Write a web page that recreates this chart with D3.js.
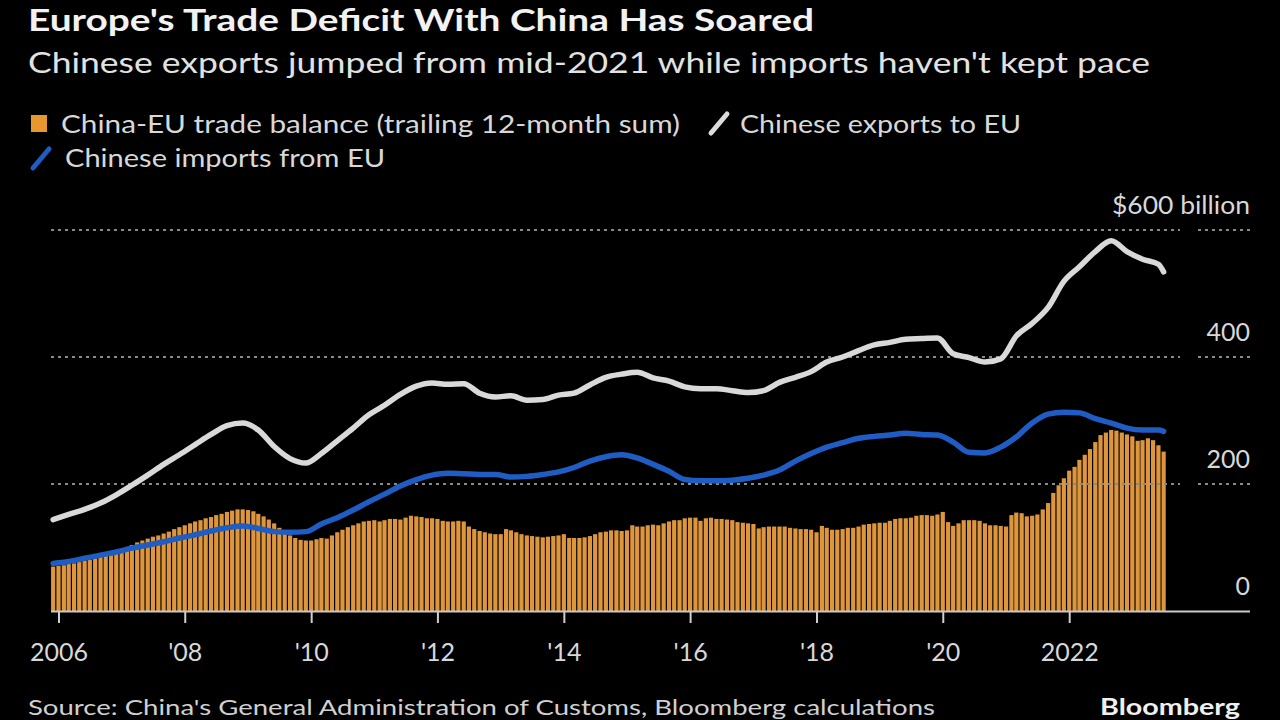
<!DOCTYPE html>
<html><head><meta charset="utf-8">
<script src="https://cdn.jsdelivr.net/npm/d3@7"></script>
<style>
body{margin:0;background:#000;}
svg{display:block;}
text{font-family:Lato,"Noto Sans",sans-serif;}
</style>
</head><body>
<svg id="c" width="1280" height="720"></svg>
<script>
// ---------- data ----------
const tickYears = [2006, 2008, 2010, 2012, 2014, 2016, 2018, 2020, 2022];
const tickLabels = ["2006", "'08", "'10", "'12", "'14", "'16", "'18", "'20", "2022"];
const yTicks = [0, 200, 400, 600];
const yTickLabels = ["0", "200", "400", "$600 billion"];

// monthly bars: Dec 2005 .. Jul 2023 (trailing 12-month sum, $bn)
const balanceStart = [2005, 11];
const balance = [
  70,
  71, 72, 74, 75, 77, 79, 81, 83, 85, 88, 91, 94,
  97, 101, 104, 108, 111, 114, 117, 119, 122, 125, 129, 132,
  135, 138, 141, 143, 146, 148, 151, 153, 156, 158, 160, 160,
  159, 157, 153, 149, 144, 138, 131, 125, 119, 115, 112, 111,
  111, 113, 115, 114, 119, 124, 128, 132, 135, 138, 141, 142,
  143, 141, 143, 145, 145, 144, 147, 150, 149, 148, 146, 146,
  145, 142, 141, 141, 142, 141, 133, 129, 126, 124, 122, 121,
  121, 129, 127, 124, 121, 119, 118, 117, 116, 117, 118, 119,
  121, 115, 115, 115, 116, 118, 121, 124, 125, 127, 127, 126,
  127, 135, 133, 133, 135, 136, 135, 138, 141, 143, 143, 146,
  147, 147, 142, 146, 147, 145, 145, 144, 143, 140, 139, 138,
  137, 130, 132, 133, 133, 133, 133, 131, 130, 129, 129, 128,
  124, 134, 131, 128, 128, 129, 131, 131, 133, 136, 137, 138,
  139, 139, 142, 145, 146, 146, 147, 150, 151, 151, 150, 152,
  156, 140, 134, 138, 143, 143, 143, 142, 138, 135, 135, 134,
  133, 151, 155, 154, 149, 150, 152, 160, 170, 186, 198, 209,
  221, 227, 238, 246, 255, 266, 277, 281, 285, 284, 281, 278,
  275, 268, 269, 272, 269, 261, 251
];

// quarterly line points: Dec 2005, Mar 2006, ... Jun 2023, then Jul 2023
const lineStart = [2005, 11];
const exportsToEU = [
  144,
  152, 160, 170, 183,
  198, 214, 231, 246,
  262, 278, 292, 296,
  285, 259, 240, 233,
  248, 268, 288, 309,
  324, 341, 354, 359,
  357, 358, 343, 337,
  339, 332, 333, 340,
  343, 356, 368, 373,
  376, 367, 362, 353,
  350, 350, 347, 344,
  347, 360, 368, 377,
  392, 400, 410, 419,
  423, 428, 429, 430,
  405, 399, 392, 397,
  433, 453, 478, 519,
  542, 566, 583, 566,
  554, 546, 534
];
const importsFromEU = [
  75,
  78, 83, 88, 93,
  99, 104, 109, 115,
  120, 126, 131, 134,
  130, 125, 124, 125,
  137, 147, 159, 172,
  184, 197, 207, 214,
  217, 216, 215, 215,
  211, 212, 215, 219,
  226, 236, 243, 246,
  241, 231, 220, 207,
  205, 205, 206, 209,
  214, 222, 236, 248,
  258, 265, 272, 275,
  277, 280, 278, 277,
  266, 250, 249, 258,
  274, 296, 310, 313,
  312, 303, 296, 288,
  285, 285, 283
];

// ---------- chart ----------
const svg = d3.select("#c");
svg.append("rect").attr("width", 1280).attr("height", 720).attr("fill", "#000");

const x = d3.scaleTime()
  .domain([new Date(2006, 0, 1), new Date(2022, 0, 1)])
  .range([58.5, 1069.2]);
const y = d3.scaleLinear().domain([0, 600]).range([611, 230]);

const months = balance.map((v, i) => new Date(balanceStart[0], balanceStart[1] + i, 1));
const lineDates = exportsToEU.map((v, i) =>
  i < exportsToEU.length - 1
    ? new Date(lineStart[0], lineStart[1] + 3 * i, 1)
    : new Date(lineStart[0], lineStart[1] + 3 * (i - 1) + 1, 1));

function fit(sel, w) {
  sel.attr("textLength", w).attr("lengthAdjust", "spacingAndGlyphs");
  return sel;
}

// titles
fit(svg.append("text").attr("x", 28).attr("y", 31)
  .attr("font-size", 31).attr("font-weight", 700).attr("fill", "#f2f2f2")
  .text("Europe's Trade Deficit With China Has Soared"), 786);
fit(svg.append("text").attr("x", 28).attr("y", 73)
  .attr("font-size", 28).attr("fill", "#e2e2e2")
  .text("Chinese exports jumped from mid-2021 while imports haven't kept pace"), 1122);

// legend
const lg = svg.append("g");
lg.append("rect").attr("x", 31).attr("y", 115).attr("width", 16).attr("height", 17).attr("fill", "#e8972f");
fit(lg.append("text").attr("x", 61).attr("y", 133).attr("font-size", 25).attr("fill", "#d8d8d8")
  .text("China-EU trade balance (trailing 12-month sum)"), 619);
lg.append("line").attr("x1", 711).attr("y1", 133).attr("x2", 727).attr("y2", 114)
  .attr("stroke", "#dcdcdc").attr("stroke-width", 5).attr("stroke-linecap", "round");
fit(lg.append("text").attr("x", 740).attr("y", 133).attr("font-size", 25).attr("fill", "#d8d8d8")
  .text("Chinese exports to EU"), 281);
lg.append("line").attr("x1", 33).attr("y1", 168).attr("x2", 49).attr("y2", 149)
  .attr("stroke", "#1f5cc4").attr("stroke-width", 5).attr("stroke-linecap", "round");
fit(lg.append("text").attr("x", 65).attr("y", 167).attr("font-size", 25).attr("fill", "#d8d8d8")
  .text("Chinese imports from EU"), 320);

// bars
const step = x(new Date(2006, 1, 1)) - x(new Date(2006, 0, 1));
const bw = step * 0.78;
svg.append("g").selectAll("rect").data(balance).join("rect")
  .attr("x", (d, i) => x(months[i]) - bw / 2)
  .attr("y", d => y(d))
  .attr("width", bw)
  .attr("height", d => y(0) - y(d))
  .attr("fill", "#de963e");

// gridlines (dotted), drawn over the bars
const grid = svg.append("g");
yTicks.filter(v => v > 0).forEach(v => {
  grid.append("line").attr("x1", 51).attr("x2", 1180).attr("y1", y(v)).attr("y2", y(v))
    .attr("stroke", "#8a8a8a").attr("stroke-width", 2).attr("stroke-dasharray", "3,4");
  grid.append("line").attr("x1", 1198).attr("x2", 1250).attr("y1", y(v)).attr("y2", y(v))
    .attr("stroke", "#8a8a8a").attr("stroke-width", 2).attr("stroke-dasharray", "3,4");
});
grid.append("line").attr("x1", 51).attr("x2", 1250).attr("y1", y(0) + 0.5).attr("y2", y(0) + 0.5)
  .attr("stroke", "#c9c9c9").attr("stroke-width", 2);

// y labels
const yl = svg.append("g").selectAll("text").data(yTicks).join("text")
  .attr("x", 1250).attr("y", d => y(d) - 16)
  .attr("text-anchor", "end").attr("font-size", 25).attr("fill", "#d8d8d8")
  .text((d, i) => yTickLabels[i]);
yl.filter(d => d === 600).attr("textLength", 138).attr("lengthAdjust", "spacingAndGlyphs");

// x axis
const xAxis = d3.axisBottom(x)
  .tickValues(tickYears.map(yr => new Date(yr, 0, 1)))
  .tickFormat((d, i) => tickLabels[i])
  .tickSize(11).tickPadding(20);
const gx = svg.append("g").attr("transform", `translate(0,${y(0) + 1})`).call(xAxis);
gx.select(".domain").remove();
gx.selectAll(".tick line").attr("stroke", "#cfcfcf").attr("stroke-width", 2);
gx.selectAll(".tick text").attr("font-size", 25).attr("fill", "#d8d8d8")
  .attr("font-family", "Lato, 'Noto Sans', sans-serif");

// lines
const line = d3.line().x((d, i) => x(lineDates[i])).y(d => y(d)).curve(d3.curveMonotoneX);
svg.append("path").datum(importsFromEU).attr("d", line)
  .attr("fill", "none").attr("stroke", "#1f5cc4").attr("stroke-width", 5.5)
  .attr("stroke-linejoin", "round").attr("stroke-linecap", "round");
svg.append("path").datum(exportsToEU).attr("d", line)
  .attr("fill", "none").attr("stroke", "#d9d9d9").attr("stroke-width", 5.5)
  .attr("stroke-linejoin", "round").attr("stroke-linecap", "round");

// footer (kept fully inside the frame)
fit(svg.append("text").attr("x", 28).attr("y", 715).attr("font-size", 21).attr("fill", "#d0d0d0")
  .text("Source: China's General Administration of Customs, Bloomberg calculations"), 907);
fit(svg.append("text").attr("x", 1100).attr("y", 715).attr("font-size", 23).attr("font-weight", 700)
  .attr("fill", "#f0f0f0").text("Bloomberg"), 140);
</script>
</body></html>
